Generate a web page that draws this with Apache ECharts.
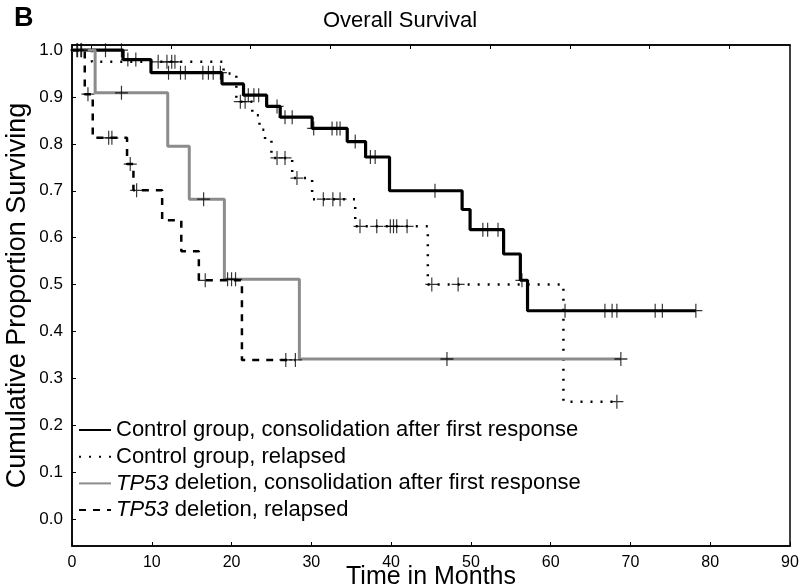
<!DOCTYPE html>
<html><head><meta charset="utf-8">
<script src="https://cdn.jsdelivr.net/npm/echarts@6/dist/echarts.min.js"></script>
<style>html,body{margin:0;padding:0;background:#fff}#c{width:800px;height:588px}</style>
</head><body><div id="c"></div>
<script>
// ---- data ----
const names = [
  'Control group, consolidation after first response',
  'Control group, relapsed',
  'TP53 deletion, consolidation after first response',
  'TP53 deletion, relapsed'
];
const xTicks = [0,10,20,30,40,50,60,70,80,90];
const yTicks = [0,0.1,0.2,0.3,0.4,0.5,0.6,0.7,0.8,0.9,1.0];
const topTicks = [2.4,12.4,22.4,32.4,42.4,52.4,62.4,72.4,82.4];

const ctrlConsT = [0, 6.4, 9.9, 18.8, 21.5, 24.4, 26.1, 30.1, 34.5, 36.8, 39.8, 48.9, 49.9, 54.1, 56.2, 57.1];
const ctrlConsV = [1.0, 0.98, 0.952, 0.928, 0.904, 0.88, 0.857, 0.833, 0.805, 0.772, 0.70, 0.66, 0.617, 0.565, 0.509, 0.444];
const ctrlConsEnd = 78.2;
const ctrlConsCens = [0.7, 1.2, 4.2, 6.2, 7.0, 8.0, 12.1, 13.6, 14.2, 16.4, 17.1, 17.7, 18.6, 22.1, 22.8, 23.4, 25.7, 26.7, 27.6, 30.3, 32.6, 33.2, 33.6, 35.5, 37.4, 38.0, 45.5, 51.5, 52.1, 53.4, 56.4, 61.8, 66.8, 67.7, 68.3, 73.1, 74.0, 78.2];

const ctrlRelT = [0, 2.5, 19.0, 20.6, 22.6, 23.5, 24.2, 25.0, 27.6, 30.1, 35.5, 44.6, 61.6];
const ctrlRelV = [1.0, 0.975, 0.95, 0.89, 0.861, 0.83, 0.81, 0.77, 0.727, 0.682, 0.624, 0.50, 0.25];
const ctrlRelEnd = 68.3;
const ctrlRelCens = [0.6, 1.1, 10.8, 11.9, 12.5, 12.9, 21.1, 21.7, 25.7, 26.7, 28.2, 31.5, 32.7, 33.6, 36.1, 38.2, 39.9, 40.3, 40.7, 42.0, 45.1, 48.4, 68.3];

const tpConsT = [0, 2.9, 12.0, 14.7, 19.1, 28.5];
const tpConsV = [1.0, 0.909, 0.795, 0.682, 0.511, 0.341];
const tpConsEnd = 68.8;
const tpConsCens = [6.2, 16.5, 19.5, 20.0, 20.5, 47.0, 68.8];

const tpRelT = [0, 1.6, 2.6, 6.9, 7.7, 11.3, 13.7, 15.9, 21.3];
const tpRelV = [1.0, 0.906, 0.813, 0.757, 0.701, 0.637, 0.571, 0.509, 0.339];
const tpRelEnd = 28.0;
const tpRelCens = [2.0, 4.6, 5.0, 7.3, 8.1, 16.7, 26.8, 28.0];

// ---- build ----
function stepData(T, V, end){ const d = T.map((t,i)=>[t, V[i]]); d.push([end, V[V.length-1]]); return d; }
function levelAt(T, V, t){ let v = V[0]; for (let i=0;i<T.length;i++){ if (t >= T[i]) v = V[i]; } return v; }
function censData(T, V, C){ return C.map(t => [t, levelAt(T, V, t)]); }

const FONT = "'Liberation Sans',Arial,sans-serif";
const plus = 'path://M-0.09,-1 H0.09 V-0.09 H1 V0.09 H0.09 V1 H-0.09 V0.09 H-1 V-0.09 H-0.09 Z';

function lineSeries(name, T, V, end, ls){
  return {name, type:'line', step:'end', symbol:'none', showSymbol:false, data: stepData(T,V,end),
    lineStyle: ls, itemStyle:{color: ls.color}, emphasis:{disabled:true}, z:2, animation:false};
}
function censSeries(T, V, C){
  return {type:'scatter', symbol: plus, symbolSize:[13,14], data: censData(T,V,C),
    itemStyle:{color:'#000'}, emphasis:{disabled:true}, z:3, animation:false, silent:true};
}

const chart = echarts.init(document.getElementById('c'), null, {renderer:'canvas'});
chart.setOption({
  backgroundColor:'#fff',
  animation:false,
  title:[{text:'B', left:9, top:0, textStyle:{fontFamily:FONT, fontWeight:'bold', fontSize:27, color:'#000'}},
         {text:'Overall Survival', left:'center', top:5, textStyle:{fontFamily:FONT, fontWeight:'normal', fontSize:22, color:'#000'}}],
  grid:{left:72, right:10, top:45, bottom:42, show:true, borderColor:'#000', borderWidth:1.5,
        containLabel:false, outerBoundsMode:'none'},
  legend:{
    data: names, orient:'vertical', left:73, top:414, itemWidth:32, itemHeight:14, itemGap:4.7,
    selectedMode:false, itemStyle:{opacity:0},
    formatter: n => n.startsWith('TP53') ? '{i|TP53}' + n.slice(4) : n,
    textStyle:{fontFamily:FONT, fontSize:22, color:'#000', lineHeight:22,
      rich:{i:{fontStyle:'italic', fontFamily:FONT, fontSize:22, color:'#000'}}}
  },
  xAxis:[{type:'value', min:0, max:90, interval:10, position:'bottom',
    name:'Time in Months', nameLocation:'middle', nameGap:19, nameMoveOverlap:false,
    nameTextStyle:{fontFamily:FONT, fontSize:25, color:'#000'},
    axisLine:{show:true, onZero:false, lineStyle:{color:'#000', width:1.5}},
    axisTick:{inside:true, length:4, lineStyle:{color:'#000'}},
    axisLabel:{fontFamily:FONT, fontSize:16, color:'#000', margin:9, customValues:xTicks},
    splitLine:{show:false}},
   {type:'value', min:0, max:90, position:'top',
    axisLine:{show:true, onZero:false, lineStyle:{color:'#000', width:1.5}},
    axisTick:{inside:true, length:4, lineStyle:{color:'#000'}, customValues:topTicks},
    axisLabel:{show:false}, splitLine:{show:false}}],
  yAxis:{type:'value', min:-0.058, max:1.011,
    name:'Cumulative Proportion Surviving', nameLocation:'middle', nameGap:41, nameMoveOverlap:false,
    nameTextStyle:{fontFamily:FONT, fontSize:27, color:'#000'},
    axisLine:{show:true, onZero:false, lineStyle:{color:'#000', width:1.5}},
    axisTick:{inside:true, length:4, lineStyle:{color:'#000'}, customValues:yTicks},
    axisLabel:{fontFamily:FONT, fontSize:17, color:'#000', margin:9, customValues:yTicks, formatter:v=>v.toFixed(1)},
    splitLine:{show:false}},
  series:[
    lineSeries(names[0], ctrlConsT, ctrlConsV, ctrlConsEnd, {color:'#000', width:3.2, type:'solid'}),
    lineSeries(names[1], ctrlRelT, ctrlRelV, ctrlRelEnd, {color:'#000', width:2.5, type:[2,8]}),
    lineSeries(names[2], tpConsT, tpConsV, tpConsEnd, {color:'#8c8c8c', width:3, type:'solid'}),
    lineSeries(names[3], tpRelT, tpRelV, tpRelEnd, {color:'#000', width:2.5, type:[7,7]}),
    censSeries(ctrlConsT, ctrlConsV, ctrlConsCens),
    censSeries(ctrlRelT, ctrlRelV, ctrlRelCens),
    censSeries(tpConsT, tpConsV, tpConsCens),
    censSeries(tpRelT, tpRelV, tpRelCens)
  ]
});
</script></body></html>
